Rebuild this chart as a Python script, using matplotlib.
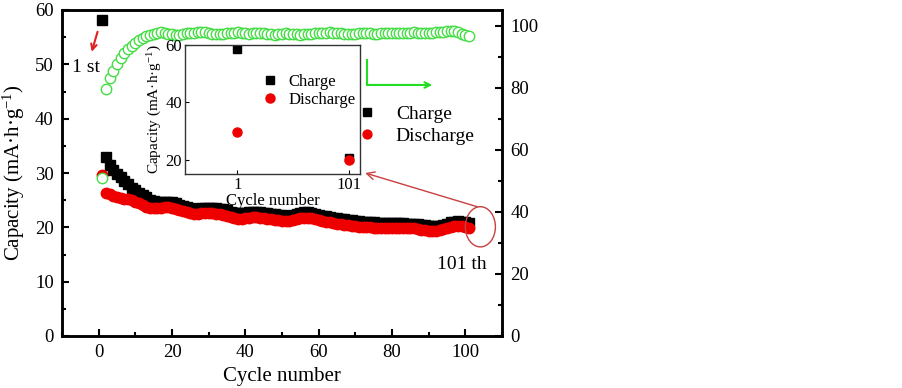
import numpy as np
import matplotlib
matplotlib.use('Agg')
import matplotlib.pyplot as plt
from matplotlib.patches import Ellipse
from matplotlib.ticker import MultipleLocator

plt.rcParams['font.family'] = ['Liberation Serif', 'DejaVu Serif']
plt.rcParams['mathtext.fontset'] = 'custom'
plt.rcParams['mathtext.rm'] = 'Liberation Serif'
plt.rcParams['mathtext.it'] = 'Liberation Serif:italic'

# cycle data
cycles = np.arange(1, 102)

charge = [58.2, 33.0, 31.4, 30.6, 29.9, 29.2, 28.5, 27.9, 27.3, 26.8,
          26.3, 25.9, 25.5, 25.1, 24.8, 24.6, 24.6, 24.7, 24.7, 24.6,
          24.4, 24.2, 24.0, 23.8, 23.6, 23.4, 23.4, 23.5, 23.6, 23.6,
          23.5, 23.5, 23.4, 23.3, 23.1, 22.9, 22.7, 22.6, 22.6, 22.7,
          22.8, 22.9, 22.9, 22.8, 22.7, 22.6, 22.5, 22.4, 22.3, 22.2,
          22.1, 22.1, 22.3, 22.5, 22.7, 22.8, 22.8, 22.7, 22.5, 22.3,
          22.1, 22.0, 21.9, 21.8, 21.7, 21.6, 21.5, 21.4, 21.3, 21.2,
          21.1, 21.0, 21.0, 20.9, 20.9, 20.8, 20.8, 20.8, 20.8, 20.8,
          20.8, 20.8, 20.8, 20.7, 20.7, 20.7, 20.6, 20.5, 20.4, 20.3,
          20.2, 20.2, 20.3, 20.5, 20.7, 20.9, 21.0, 21.1, 21.0, 20.9,
          20.8]

discharge = [29.7, 26.3, 26.1, 25.8, 25.6, 25.4, 25.3, 25.2, 25.0, 24.7,
             24.4, 24.1, 23.8, 23.6, 23.5, 23.5, 23.6, 23.7, 23.7, 23.6,
             23.4, 23.2, 23.0, 22.8, 22.6, 22.5, 22.5, 22.6, 22.7, 22.7,
             22.6, 22.5, 22.4, 22.3, 22.1, 21.9, 21.7, 21.6, 21.6, 21.7,
             21.8, 21.9, 21.9, 21.8, 21.7, 21.6, 21.5, 21.4, 21.3, 21.2,
             21.1, 21.1, 21.3, 21.5, 21.7, 21.8, 21.8, 21.7, 21.5, 21.3,
             21.1, 21.0, 20.9, 20.8, 20.7, 20.6, 20.5, 20.4, 20.3, 20.2,
             20.1, 20.1, 20.0, 20.0, 19.9, 19.9, 19.9, 19.9, 19.9, 19.9,
             19.9, 19.9, 19.9, 19.8, 19.8, 19.8, 19.7, 19.6, 19.5, 19.4,
             19.4, 19.4, 19.5, 19.7, 19.9, 20.1, 20.2, 20.3, 20.2, 20.0,
             19.8]

efficiency = [51.0, 79.5, 83.0, 85.5, 87.5, 89.5, 91.0, 92.5, 93.5, 94.5,
              95.3, 96.0, 96.5, 97.0, 97.3, 97.6, 97.8, 97.6, 97.4, 97.2,
              97.0, 97.1, 97.3, 97.5, 97.6, 97.7, 97.8, 97.9, 97.8, 97.5,
              97.3, 97.2, 97.3, 97.4, 97.5, 97.6, 97.7, 97.8, 97.7, 97.5,
              97.4, 97.5, 97.6, 97.7, 97.6, 97.4, 97.2, 97.1, 97.2, 97.4,
              97.5, 97.4, 97.3, 97.2, 97.1, 97.2, 97.3, 97.4, 97.5, 97.5,
              97.6, 97.7, 97.8, 97.7, 97.6, 97.5, 97.4, 97.3, 97.3, 97.4,
              97.5, 97.6, 97.6, 97.5, 97.4, 97.4, 97.5, 97.6, 97.7, 97.7,
              97.6, 97.5, 97.5, 97.6, 97.7, 97.8, 97.7, 97.6, 97.5, 97.6,
              97.7, 97.8, 97.9, 98.0, 98.2, 98.3, 98.2, 97.9, 97.4, 97.0,
              96.7]

# inset: first and last cycle
inset_cycles = [1, 101]
inset_charge = [58.5, 20.5]
inset_discharge = [29.7, 20.0]

fig = plt.figure(figsize=(9.03, 3.88), dpi=100)
ax = fig.add_axes([62 / 903, 1 - 336 / 388, 440 / 903, 326 / 388])

ax.plot(cycles, charge, 's', color='black', ms=7, mec='black', label='Charge')
ax.plot(cycles, discharge, 'o', color='#ee0000', ms=7.5, mec='#ee0000', label='Discharge')

ax.set_xlim(-10, 110)
ax.set_ylim(0, 60)
ax.xaxis.set_major_locator(MultipleLocator(20))
ax.xaxis.set_minor_locator(MultipleLocator(10))
ax.yaxis.set_major_locator(MultipleLocator(10))
ax.yaxis.set_minor_locator(MultipleLocator(5))
ax.tick_params(which='both', direction='in', top=False, right=False, width=1.5, labelsize=13.5)
ax.tick_params(which='major', length=5, pad=6)
ax.tick_params(which='minor', length=3)
for sp in ax.spines.values():
    sp.set_linewidth(1.8)
ax.set_xlabel('Cycle number', fontsize=15, labelpad=4)
ax.set_ylabel('Capacity (mA·h·g$^{-1}$)', fontsize=15, labelpad=6)

ax2 = ax.twinx()
ax2.plot(cycles, efficiency, 'o', ms=7.5, mfc='white', mec='#44dd44', mew=1)
ax2.set_ylim(0, 105)
ax2.yaxis.set_major_locator(MultipleLocator(20))
ax2.yaxis.set_minor_locator(MultipleLocator(10))
ax2.tick_params(which='both', direction='in', width=1.5, labelsize=13.5)
ax2.tick_params(which='major', length=5, pad=6)
ax2.tick_params(which='minor', length=3)
for sp in ax2.spines.values():
    sp.set_linewidth(1.8)

leg = ax2.legend(handles=ax.get_lines(), loc='center left', frameon=False,
                 bbox_to_anchor=(357 / 903, 1 - 125 / 388), bbox_transform=fig.transFigure,
                 handlelength=1, handletextpad=1.0, labelspacing=0.25,
                 borderpad=0, borderaxespad=0, numpoints=1, fontsize=14,
                 markerscale=0.85)

# annotations
ax.text(-3.4, 49.5, '1 st', fontsize=14, ha='center', va='center')
ax.annotate('', xy=(-1.9, 52.3), xytext=(-0.3, 56.0),
            arrowprops=dict(arrowstyle='->', color='#e02020', lw=1.5, shrinkA=0, shrinkB=0))
ax.plot([73.2, 73.2], [50.8, 46.2], color='#22dd22', lw=1.5)
ax.annotate('', xy=(91.0, 46.2), xytext=(73.2, 46.2),
            arrowprops=dict(arrowstyle='->', color='#22dd22', lw=1.5, shrinkA=0, shrinkB=0))
ax.text(99.0, 13.1, '101 th', fontsize=14, ha='center', va='center')
ax.add_patch(Ellipse((104.1, 20.1), 8.2, 7.4, fill=False, ec='#c84040', lw=1, zorder=5))
ax.annotate('', xy=(72.7, 30.0), xytext=(103.2, 23.8),
            arrowprops=dict(arrowstyle='->', color='#c84040', lw=1, shrinkA=0, shrinkB=0,
                            mutation_scale=14))

# inset
axi = fig.add_axes([185 / 903, 1 - 174 / 388, 175 / 903, 129 / 388])
axi.plot(inset_cycles, inset_charge, 's', color='black', ms=6, label='Charge')
axi.plot(inset_cycles, inset_discharge, 'o', color='#ee0000', ms=6.5, label='Discharge')
axi.set_xlim(-46, 111)
axi.set_ylim(15, 60)
axi.set_xticks(inset_cycles)
axi.set_xticklabels(['1', '101'])
axi.set_yticks([20, 40, 60])
axi.tick_params(direction='in', length=3, labelsize=12, pad=2)
for sp in axi.spines.values():
    sp.set_linewidth(1.0)
    sp.set_color('#333333')
axi.set_xlabel('Cycle number', fontsize=12, labelpad=0)
axi.set_ylabel('Capacity (mA·h·g$^{-1}$)', fontsize=11, labelpad=1)
axi.legend(loc='center left', frameon=False,
           bbox_to_anchor=(262 / 903, 1 - 91 / 388), bbox_transform=fig.transFigure,
           handlelength=1, handletextpad=0.6, labelspacing=0.1,
           borderpad=0, borderaxespad=0, numpoints=1, fontsize=12)

fig.savefig('out.png', dpi=100)
